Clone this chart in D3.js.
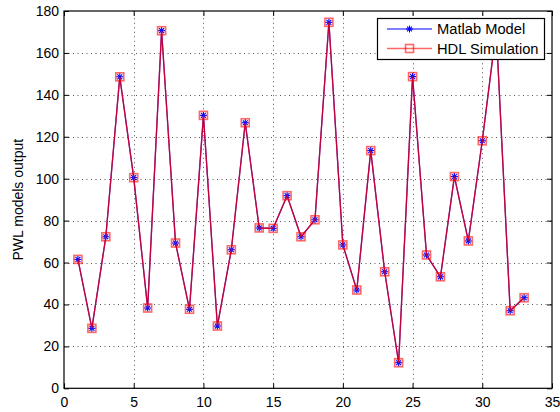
<!DOCTYPE html>
<html lang="en">
<head>
  <meta charset="UTF-8">
  <title>PWL models output</title>
  <style>
    body { margin: 0; background: #fff; }
    svg { display: block; font-family: "Liberation Sans", Arial, sans-serif; }
  </style>
</head>
<body>
<svg id="chart" width="560" height="412"></svg>

<script src="https://d3js.org/d3.v7.min.js"></script>
<script>
/* global d3 */

// sample index 1..33
var samples = d3.range(1, 34);

// values
var matlabModel = [61.5, 28.6, 72.3, 148.6, 100.5, 38.3, 170.6, 69.3, 37.7, 130.2,
  29.7, 66.1, 126.7, 76.5, 76.3, 91.9, 72.3, 80.4, 174.6, 68.4,
  46.9, 113.4, 55.6, 12.2, 148.7, 63.6, 53.2, 101, 70.3, 118.1,
  171, 37, 43.2];
var hdlSimulation = [61.5, 28.6, 72.3, 148.6, 100.5, 38.3, 170.6, 69.3, 37.7, 130.2,
  29.7, 66.1, 126.7, 76.5, 76.3, 91.9, 72.3, 80.4, 174.6, 68.4,
  46.9, 113.4, 55.6, 12.2, 148.7, 63.6, 53.2, 101, 70.3, 118.1,
  171, 37, 43.2];

var xTicks = [0, 5, 10, 15, 20, 25, 30, 35];
var yTicks = [0, 20, 40, 60, 80, 100, 120, 140, 160, 180];
var legendNames = ["Matlab Model", "HDL Simulation"];

// note: "top" is taken by window.top, so use plotTop etc.
var svg = d3.select("#chart"),
  plotLeft = 64, plotRight = 552, plotTop = 11, plotBottom = 388.3;

var x = d3.scaleLinear().domain([0, 35]).range([plotLeft, plotRight]);
var y = d3.scaleLinear().domain([0, 180]).range([plotBottom, plotTop]);

// grid
var grid = svg.append("g")
  .attr("stroke", "#555")
  .attr("stroke-width", 1)
  .attr("stroke-dasharray", "1,3.5");
grid.selectAll(".gx").data(xTicks.slice(1, -1)).enter().append("line")
  .attr("x1", function (d) { return Math.round(x(d)) + 0.5; })
  .attr("x2", function (d) { return Math.round(x(d)) + 0.5; })
  .attr("y1", plotBottom).attr("y2", plotTop);
grid.selectAll(".gy").data(yTicks.slice(1, -1)).enter().append("line")
  .attr("y1", function (d) { return Math.round(y(d)) + 0.5; })
  .attr("y2", function (d) { return Math.round(y(d)) + 0.5; })
  .attr("x1", plotLeft).attr("x2", plotRight);

// axes, ticks inward like matlab
function styleAxis(g) {
  g.select(".domain").remove();
  g.selectAll("line").attr("stroke", "#000");
  g.selectAll("text").attr("fill", "#000").style("font-size", "14px");
}

svg.append("g").attr("transform", "translate(0," + plotBottom + ")")
  .call(d3.axisBottom(x).tickValues(xTicks).tickSize(-5).tickPadding(8.5))
  .call(styleAxis);
svg.append("g").attr("transform", "translate(0," + plotTop + ")")
  .call(d3.axisTop(x).tickValues(xTicks).tickSize(-5).tickFormat(""))
  .call(styleAxis);
svg.append("g").attr("transform", "translate(" + plotLeft + ",0)")
  .call(d3.axisLeft(y).tickValues(yTicks).tickSize(-5).tickPadding(5))
  .call(styleAxis);
svg.append("g").attr("transform", "translate(" + plotRight + ",0)")
  .call(d3.axisRight(y).tickValues(yTicks).tickSize(-5).tickFormat(""))
  .call(styleAxis);

svg.append("rect")
  .attr("x", plotLeft).attr("y", plotTop)
  .attr("width", plotRight - plotLeft).attr("height", plotBottom - plotTop)
  .attr("fill", "none").attr("stroke", "#000").attr("stroke-width", 1.2);

// series
var line = d3.line()
  .x(function (d, i) { return x(samples[i]); })
  .y(function (d) { return y(d); });

function asterisk(g, cx, cy, s) {
  var p = g.append("g").attr("transform", "translate(" + cx + "," + cy + ")")
    .attr("stroke", "#0000ff").attr("stroke-width", 1.1);
  p.append("line").attr("x1", -s).attr("x2", s).attr("y1", 0).attr("y2", 0);
  p.append("line").attr("x1", 0).attr("x2", 0).attr("y1", -s).attr("y2", s);
  p.append("line").attr("x1", -s * 0.7).attr("x2", s * 0.7).attr("y1", -s * 0.7).attr("y2", s * 0.7);
  p.append("line").attr("x1", -s * 0.7).attr("x2", s * 0.7).attr("y1", s * 0.7).attr("y2", -s * 0.7);
}

function square(g, cx, cy, s) {
  g.append("rect")
    .attr("x", cx - s).attr("y", cy - s)
    .attr("width", 2 * s).attr("height", 2 * s)
    .attr("fill", "none").attr("stroke", "#ff0000")
    .attr("stroke-opacity", 0.6).attr("stroke-width", 1.6);
}

svg.append("path").datum(matlabModel)
  .attr("d", line).attr("fill", "none")
  .attr("stroke", "#0000ff").attr("stroke-width", 1.2);

var stars = svg.append("g");
matlabModel.forEach(function (d, i) { asterisk(stars, x(samples[i]), y(d), 3.5); });

svg.append("path").datum(hdlSimulation)
  .attr("d", line).attr("fill", "none")
  .attr("stroke", "#ff0000").attr("stroke-opacity", 0.75).attr("stroke-width", 1.4);

var squares = svg.append("g");
hdlSimulation.forEach(function (d, i) { square(squares, x(samples[i]), y(d), 4); });

// y label
svg.append("text")
  .attr("transform", "translate(23," + ((plotTop + plotBottom) / 2) + ") rotate(-90)")
  .attr("text-anchor", "middle")
  .style("font-size", "14px")
  .text("PWL models output");

// legend
var lg = svg.append("g");
lg.append("rect")
  .attr("x", 377.5).attr("y", 18.5).attr("width", 167).attr("height", 41)
  .attr("fill", "#fff").attr("stroke", "#000").attr("stroke-width", 1.2);

var rows = [29, 48.5];
lg.append("line").attr("x1", 387).attr("x2", 432).attr("y1", rows[0]).attr("y2", rows[0])
  .attr("stroke", "#0000ff").attr("stroke-width", 1.2);
asterisk(lg, 409.5, rows[0], 3.5);
lg.append("line").attr("x1", 387).attr("x2", 432).attr("y1", rows[1]).attr("y2", rows[1])
  .attr("stroke", "#ff0000").attr("stroke-opacity", 0.6).attr("stroke-width", 1.6);
square(lg, 409.5, rows[1], 4);

lg.selectAll(".lt").data(legendNames).enter().append("text")
  .attr("x", 437).attr("y", function (d, i) { return rows[i]; })
  .attr("dy", "0.36em")
  .style("font-size", "14.7px")
  .text(function (d) { return d; });
</script>
</body>
</html>
